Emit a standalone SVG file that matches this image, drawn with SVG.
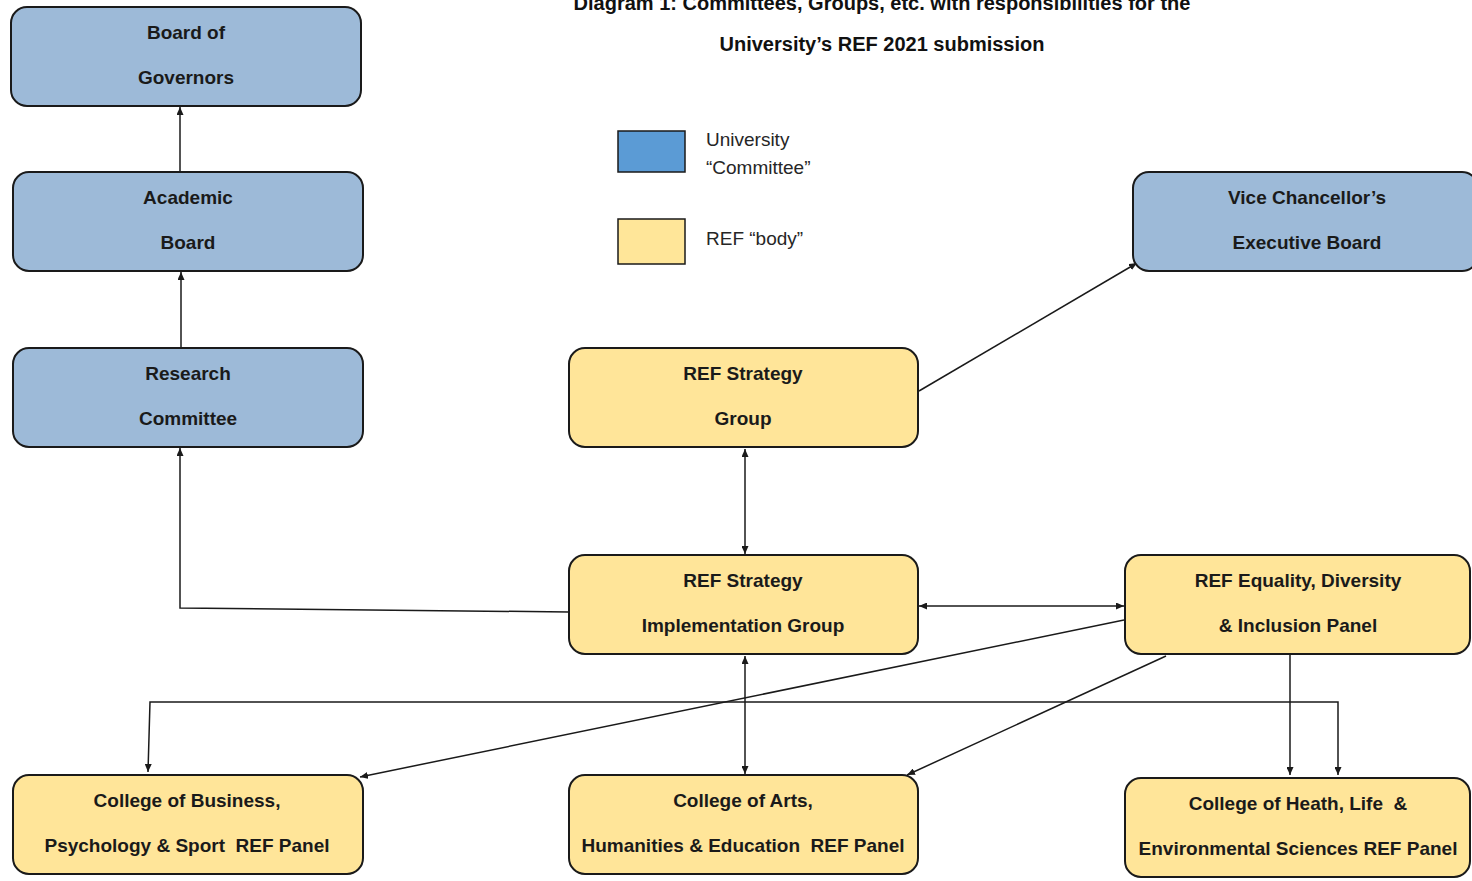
<svg xmlns="http://www.w3.org/2000/svg" width="1472" height="881" viewBox="0 0 1472 881">
<style>
.blue{fill:#9DBAD8;stroke:#1a1a1a;stroke-width:2}
.yel{fill:#FFE599;stroke:#1a1a1a;stroke-width:2}
.t{font-family:"Liberation Sans",Arial,sans-serif;font-weight:bold;font-size:19px;fill:#1a1a1a;text-anchor:middle;white-space:pre}
.lg{font-family:"Liberation Sans",Arial,sans-serif;font-size:19px;fill:#262626}
.ttl{font-family:"Liberation Sans",Arial,sans-serif;font-weight:bold;font-size:20px;fill:#111;text-anchor:middle}
.c{fill:none;stroke:#1a1a1a;stroke-width:1.5}
</style>
<defs>
<marker id="arr" viewBox="0 0 8 7" refX="8" refY="3.5" markerWidth="8" markerHeight="7" markerUnits="userSpaceOnUse" orient="auto-start-reverse">
<path d="M0,0 L8,3.5 L0,7 z" fill="#1a1a1a"/>
</marker>
</defs>
<rect width="1472" height="881" fill="#ffffff"/>
<g id="title">
<text class="ttl" x="882" y="10">Diagram 1: Committees, Groups, etc. with responsibilities for the</text>
<text class="ttl" x="882" y="51">University’s REF 2021 submission</text>
</g>
<g id="legend">
<rect x="618" y="131" width="67" height="41" fill="#5B9BD5" stroke="#1a1a1a" stroke-width="1.5"/>
<text class="lg" x="706" y="146">University</text>
<text class="lg" x="706" y="174">“Committee”</text>
<rect x="618" y="219" width="67" height="45" fill="#FFE699" stroke="#1a1a1a" stroke-width="1.5"/>
<text class="lg" x="706" y="245">REF “body”</text>
</g>
<g id="connectors">
<line class="c" x1="180" y1="172" x2="180" y2="107" marker-end="url(#arr)"/>
<line class="c" x1="181" y1="348" x2="181" y2="272" marker-end="url(#arr)"/>
<polyline class="c" points="569,612 180,608 180,448" marker-end="url(#arr)"/>
<line class="c" x1="919" y1="391" x2="1137" y2="263" marker-end="url(#arr)"/>
<line class="c" x1="745" y1="449" x2="745" y2="554" marker-start="url(#arr)" marker-end="url(#arr)"/>
<line class="c" x1="919" y1="606" x2="1124" y2="606" marker-start="url(#arr)" marker-end="url(#arr)"/>
<line class="c" x1="1124" y1="620" x2="360" y2="777" marker-end="url(#arr)"/>
<line class="c" x1="745" y1="656" x2="745" y2="774" marker-start="url(#arr)" marker-end="url(#arr)"/>
<line class="c" x1="1166" y1="656" x2="907" y2="775" marker-end="url(#arr)"/>
<line class="c" x1="1290" y1="655" x2="1290" y2="775" marker-end="url(#arr)"/>
<polyline class="c" points="148,772 150,702 1338,702 1338,775" marker-start="url(#arr)" marker-end="url(#arr)"/>
</g>
<g id="board-of-governors">
<rect class="blue" x="11" y="7" width="350" height="99" rx="16"/>
<text class="t" x="186" y="39">Board of</text>
<text class="t" x="186" y="84">Governors</text>
</g>
<g id="academic-board">
<rect class="blue" x="13" y="172" width="350" height="99" rx="16"/>
<text class="t" x="188" y="204">Academic</text>
<text class="t" x="188" y="249">Board</text>
</g>
<g id="research-committee">
<rect class="blue" x="13" y="348" width="350" height="99" rx="16"/>
<text class="t" x="188" y="380">Research</text>
<text class="t" x="188" y="425">Committee</text>
</g>
<g id="ref-strategy-group">
<rect class="yel" x="569" y="348" width="349" height="99" rx="16"/>
<text class="t" x="743" y="380">REF Strategy</text>
<text class="t" x="743" y="425">Group</text>
</g>
<g id="vc-executive-board">
<rect class="blue" x="1133" y="172" width="345" height="99" rx="16"/>
<text class="t" x="1307" y="204">Vice Chancellor’s</text>
<text class="t" x="1307" y="249">Executive Board</text>
</g>
<g id="ref-strategy-implementation-group">
<rect class="yel" x="569" y="555" width="349" height="99" rx="16"/>
<text class="t" x="743" y="587">REF Strategy</text>
<text class="t" x="743" y="632">Implementation Group</text>
</g>
<g id="ref-edi-panel">
<rect class="yel" x="1125" y="555" width="345" height="99" rx="16"/>
<text class="t" x="1298" y="587">REF Equality, Diversity</text>
<text class="t" x="1298" y="632">&amp; Inclusion Panel</text>
</g>
<g id="college-business">
<rect class="yel" x="13" y="775" width="350" height="99" rx="16"/>
<text class="t" x="187" y="807">College of Business,</text>
<text class="t" x="187" y="852">Psychology &amp; Sport  REF Panel</text>
</g>
<g id="college-arts">
<rect class="yel" x="569" y="775" width="349" height="99" rx="16"/>
<text class="t" x="743" y="807">College of Arts,</text>
<text class="t" x="743" y="852">Humanities &amp; Education  REF Panel</text>
</g>
<g id="college-health">
<rect class="yel" x="1125" y="778" width="345" height="99" rx="16"/>
<text class="t" x="1298" y="810">College of Heath, Life  &amp;</text>
<text class="t" x="1298" y="855">Environmental Sciences REF Panel</text>
</g>
</svg>
